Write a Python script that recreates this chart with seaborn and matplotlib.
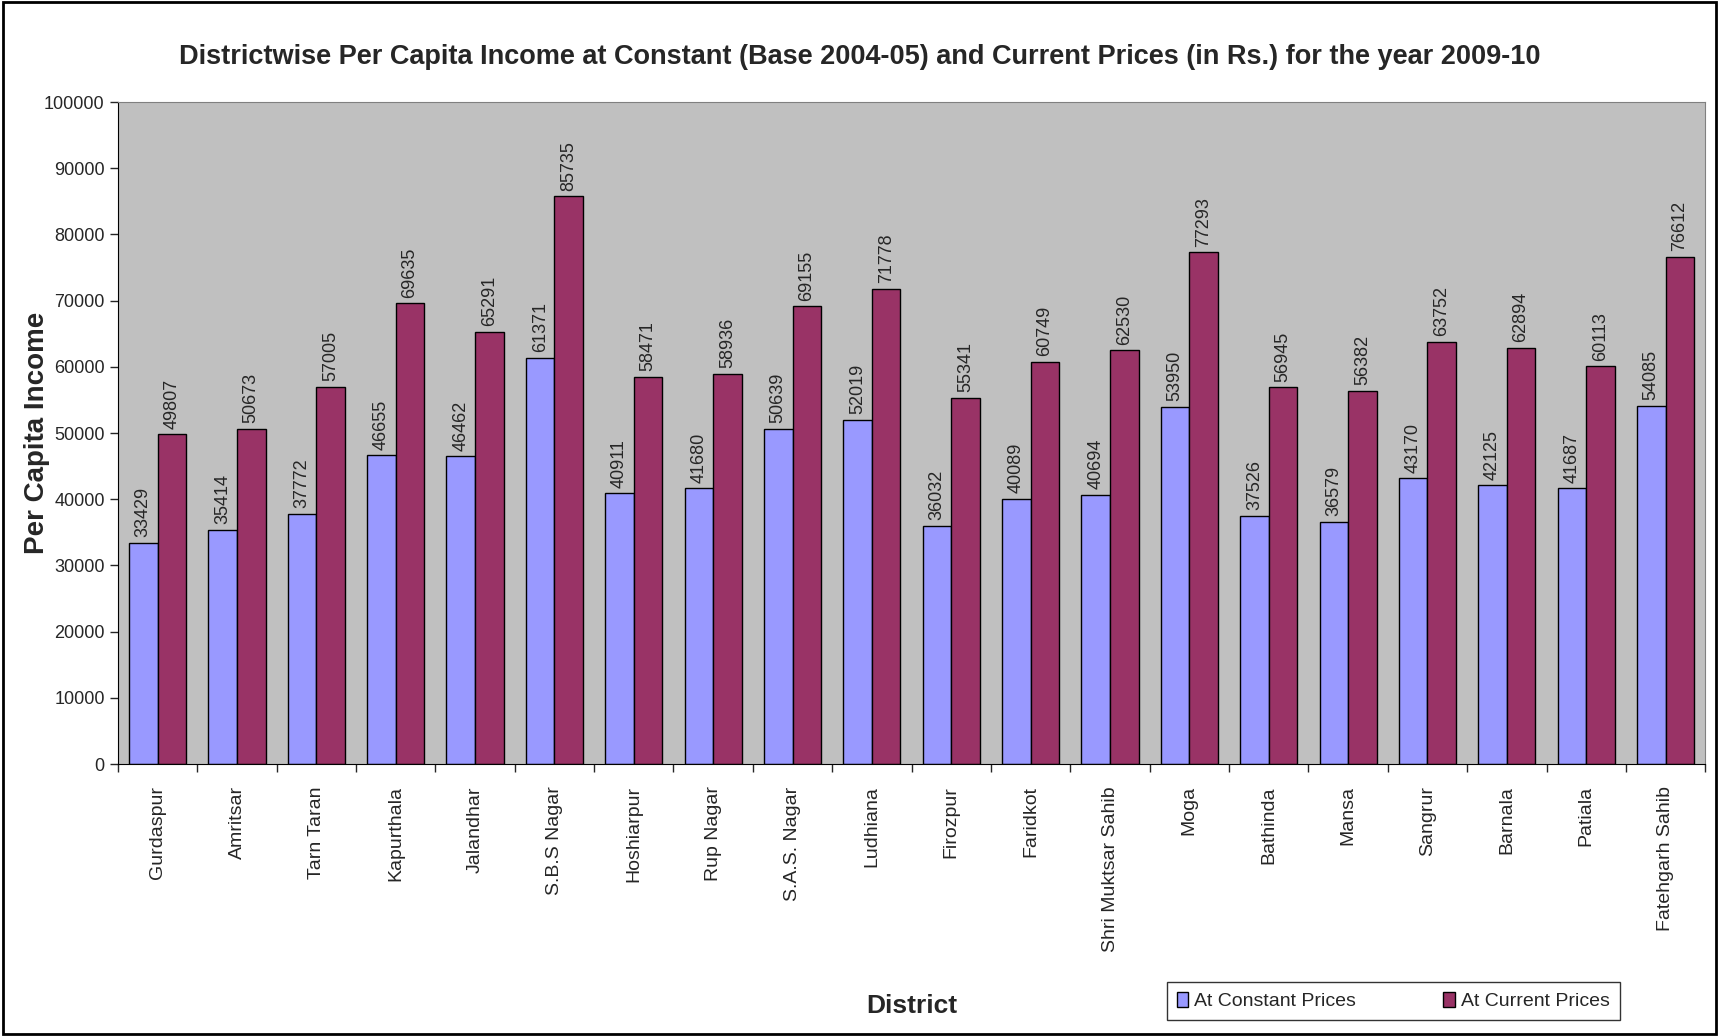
import seaborn as sns
import pandas as pd
import matplotlib.pyplot as plt
from matplotlib.patches import Rectangle
from matplotlib.ticker import MultipleLocator, FixedLocator

districts = ["Gurdaspur", "Amritsar", "Tarn Taran", "Kapurthala", "Jalandhar",
             "S.B.S Nagar", "Hoshiarpur", "Rup Nagar", "S.A.S. Nagar", "Ludhiana",
             "Firozpur", "Faridkot", "Shri Muktsar Sahib", "Moga", "Bathinda",
             "Mansa", "Sangrur", "Barnala", "Patiala", "Fatehgarh Sahib"]
constant_prices = [33429, 35414, 37772, 46655, 46462, 61371, 40911, 41680, 50639, 52019,
                   36032, 40089, 40694, 53950, 37526, 36579, 43170, 42125, 41687, 54085]
current_prices = [49807, 50673, 57005, 69635, 65291, 85735, 58471, 58936, 69155, 71778,
                  55341, 60749, 62530, 77293, 56945, 56382, 63752, 62894, 60113, 76612]
series_names = ["At Constant Prices", "At Current Prices"]


def buildFrame():
    df = pd.DataFrame({
        "District": districts * 2,
        "Series": [series_names[0]] * len(districts) + [series_names[1]] * len(districts),
        "Income": constant_prices + current_prices,
    })
    return df


def plotData(df):
    sns.set_style("ticks")
    plt.rcParams['font.family'] = ['Liberation Sans', 'DejaVu Sans']

    fig = plt.figure(figsize=(17.19, 10.36), dpi=100)
    ax = fig.add_axes([0.0686, 0.2625, 0.9234, 0.639])
    ax.set_facecolor("#C0C0C0")

    sns.barplot(data=df, x="District", y="Income", hue="Series", ax=ax,
                palette=["#9999FF", "#993366"], width=0.72,
                edgecolor="black", linewidth=1, saturation=1)

    for cont in ax.containers:
        ax.bar_label(cont, rotation=90, padding=4, fontsize=13)

    ax.set_ylim(0, 100000)
    ax.set_xlim(-0.5, len(districts) - 0.5)
    ax.yaxis.set_major_locator(MultipleLocator(10000))
    ax.tick_params(axis="y", labelsize=13, length=6, width=1)
    ax.tick_params(axis="x", which="major", length=0, labelsize=14, rotation=90, pad=16)
    ax.xaxis.set_minor_locator(FixedLocator([i - 0.5 for i in range(len(districts) + 1)]))
    ax.tick_params(axis="x", which="minor", length=6, width=1)

    for s in ["top", "right"]:
        ax.spines[s].set_color("#808080")
    ax.spines["left"].set_color("black")
    ax.spines["bottom"].set_color("black")

    # labels sit outside the axes like the Excel original
    ax.set_xlabel("")
    ax.set_ylabel("Per Capita Income", fontsize=20, fontweight="bold")
    ax.yaxis.set_label_coords(-0.043, 0.5)
    fig.text(0.5306, 0.029, "District", ha="center", va="center",
             fontsize=19, fontweight="bold")
    fig.text(0.5, 0.945,
             "Districtwise Per Capita Income at Constant (Base 2004-05) and Current Prices (in Rs.) for the year 2009-10",
             ha="center", va="center", fontsize=19.5, fontweight="bold")

    ax.get_legend().remove()
    handles, labels = ax.get_legend_handles_labels()
    leg = fig.legend(handles, labels, loc="center", bbox_to_anchor=(0.8105, 0.034),
                     ncol=2, frameon=True, fancybox=False, edgecolor="black",
                     prop={"size": 14}, handlelength=0.6,
                     handleheight=0.8, handletextpad=0.3, columnspacing=4.5,
                     borderpad=0.5)
    leg.get_frame().set_linewidth(1)

    fig.patches.append(Rectangle((0.002, 0.002), 0.996, 0.996, transform=fig.transFigure,
                                 fill=False, edgecolor="black", linewidth=2))
    fig.savefig("out.png", dpi=100)


def main():
    data = buildFrame()
    plotData(data)


if __name__ == "__main__":
    main()
